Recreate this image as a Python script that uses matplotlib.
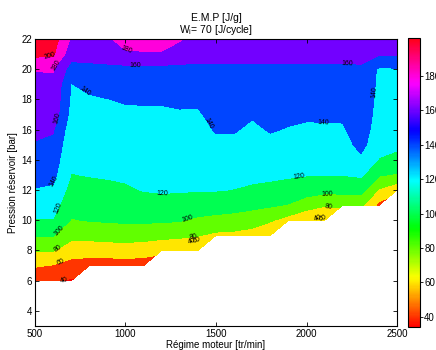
import numpy as np
import matplotlib
matplotlib.use('Agg')
import matplotlib.pyplot as plt
from matplotlib.colors import Normalize
from matplotlib.cm import ScalarMappable

plt.rcParams['font.family'] = ['Liberation Sans', 'DejaVu Sans']

# grille : regime moteur (tr/min) x pression reservoir (bar)
regime = list(range(500, 2501, 100))
pression = list(range(6, 23))
nan = np.nan

# E.M.P [J/g], une colonne par regime, pression de 6 a 22 bar
emp_cols = [
    [45, 62, 82, 102, 119, 127, 139, 146, 152, 159, 163, 166, 169, 173, 181, 205, 215],
    [42, 59, 81, 101, 119, 128, 137, 145, 150, 155, 162, 172, 175, 177, 181, 203, 210],
    [38, 51, 71, 85, 99, 106, 113, 119.5, 123, 126, 129, 134, 137, 139.5, 152, 168, 178],
    [nan, 50, 69, 86, 101, 107.6, 114.5, 120.7, 124, 127.6, 131, 134.5, 138, 144, 154.7, 167, 174],
    [nan, 50, 69.5, 87.8, 102, 109, 116, 121.6, 125.2, 128.8, 132.4, 136, 139.6, 147.5, 155.8, 168, 177],
    [nan, 51, 70, 88.8, 103, 110.4, 117.8, 122.5, 126.2, 129.8, 133.5, 137.1, 141.5, 148.9, 154, 177, 188],
    [nan, 50, 69, 87.5, 103, 112.5, 120.7, 124, 127.5, 130.8, 134.2, 137.6, 141.5, 148, 154, 178, 189],
    [nan, nan, 65, 85.7, 102.9, 114.3, 121.6, 124.8, 128, 131.3, 134.5, 137.7, 141.5, 148, 154, 178, 188],
    [nan, nan, 62, 84.3, 101.2, 112.9, 121.4, 124.7, 128.1, 131.5, 134.9, 138.3, 143, 149, 155, 170, 182],
    [nan, nan, 61, 81, 96.7, 110.5, 120.9, 124.3, 127.7, 131.1, 134.5, 138, 142.8, 149.7, 156, 167, 172],
    [nan, nan, nan, 76, 94.5, 109, 120.8, 126, 131.2, 136.4, 141.3, 145.4, 149.6, 153.7, 157, 165, 172],
    [nan, nan, nan, 75, 92.7, 107.5, 119.5, 125.4, 130.8, 136.2, 141.3, 145.5, 149.7, 153.9, 157, 165, 172],
    [nan, nan, nan, 72, 89, 105, 117.5, 123.6, 128, 132.4, 136.9, 141.6, 146.9, 152.3, 157, 165, 172],
    [nan, nan, nan, 62, 82.2, 102.5, 115, 123.6, 129.7, 135.8, 141.3, 145.5, 149.7, 153.9, 157, 165, 172],
    [nan, nan, nan, nan, 72, 98.7, 112.3, 122.2, 127.8, 133.3, 138.9, 143.8, 148.5, 153.2, 157, 165, 172],
    [nan, nan, nan, nan, 62, 89.2, 108.7, 120.8, 126.3, 131.8, 137.3, 142.5, 147.6, 152.7, 157, 165, 172],
    [nan, nan, nan, nan, 62, 81.5, 106, 120.4, 126.1, 131.8, 137.4, 142.8, 147.8, 152.8, 157, 165, 172],
    [nan, nan, nan, nan, nan, 84, 106, 120.4, 126.2, 132, 137.7, 143, 148, 153, 157, 165, 172],
    [nan, nan, nan, nan, nan, 84, 106.7, 122.7, 136, 146, 150, 152, 153, 155, 157, 166, 172],
    [nan, nan, nan, nan, nan, 55, 78, 101.7, 119, 126, 130, 133, 134.5, 136, 137, 162, 172],
    [nan, nan, nan, nan, nan, nan, 65, 98, 114, 124, 128, 131, 134, 136, 138.5, 163, 174],
]
niveaux = [40, 60, 80, 100, 120, 140, 160, 180, 200]
cticks = [40, 60, 80, 100, 120, 140, 160, 180]

X, Y = np.meshgrid(regime, pression)
Z = np.ma.masked_invalid(np.array(emp_cols, dtype=float).T)

cmap = plt.get_cmap('hsv')
norm = Normalize(34, 202)
bornes = [0] + niveaux + [300]
couleurs = [cmap(norm(v)) for v in [34] + niveaux]

fig = plt.figure(figsize=(4.36, 3.5), dpi=100)
ax = fig.add_axes([0.080, 0.0686, 0.831, 0.820])
ax.contourf(X, Y, Z, levels=bornes, colors=couleurs, antialiased=False)
cs = ax.contour(X, Y, Z, levels=niveaux, colors='k', linewidths=0)

pos_labels = [(583, 20.85), (594, 20.4), (1003, 21.05), (1052, 20.33), (2224, 20.45),
              (610, 16.8), (782, 18.6), (1467, 16.5), (2367, 18.5), (2091, 16.4),
              (594, 12.6), (610, 10.9), (1207, 11.4), (1964, 12.6),
              (627, 9.4), (1345, 10.07), (2113, 11.73),
              (622, 8.27), (1373, 9.07), (2119, 10.8),
              (638, 7.4), (660, 6.1)]
ax.clabel(cs, manual=pos_labels, fontsize=5, inline=True, fmt='%d')

# etiquettes superposees en bord de zone
for xt, yt, s in [(1365, 8.6, '40'), (1392, 8.65, '60'), (2062, 10.1, '40'), (2090, 10.15, '60')]:
    ax.text(xt, yt, s, fontsize=5, rotation=20, ha='center', va='center')

ax.set_xlim(500, 2500)
ax.set_ylim(3, 22)
ax.set_xticks([500, 1000, 1500, 2000, 2500])
ax.set_yticks(range(4, 23, 2))
ax.tick_params(direction='in', top=True, right=True, labelsize=7, length=3, width=0.6, pad=2)
for sp in ax.spines.values():
    sp.set_linewidth(0.8)
ax.set_xlabel('Régime moteur [tr/min]', fontsize=7, labelpad=1)
ax.set_ylabel('Pression réservoir [bar]', fontsize=7, labelpad=2)
ax.set_title('E.M.P [J/g]\nW$_\\mathregular{i}$= 70 [J/cycle]', fontsize=7.5, pad=4, linespacing=1.0)

cax = fig.add_axes([0.936, 0.0657, 0.0275, 0.825])
cb = fig.colorbar(ScalarMappable(norm=norm, cmap=cmap), cax=cax, ticks=cticks)
cb.ax.tick_params(labelsize=7, length=2, width=0.6, pad=1)
cb.outline.set_linewidth(0.8)

fig.savefig('out.png', dpi=100)
